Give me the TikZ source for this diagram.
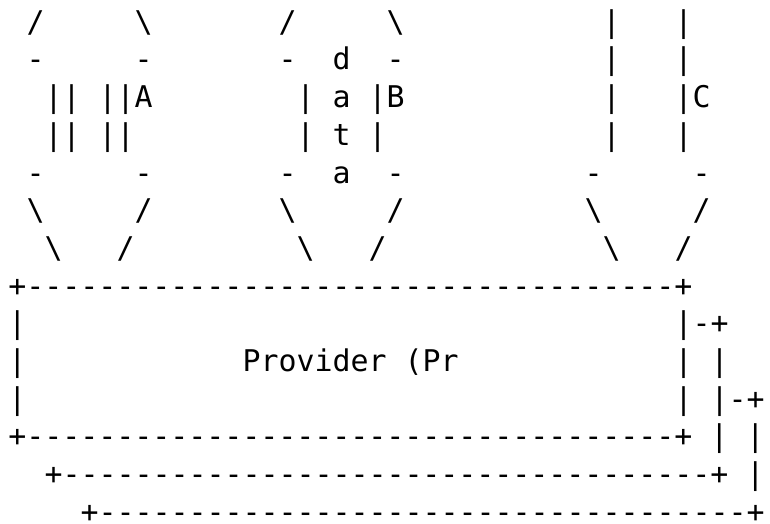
\documentclass[tikz,border=0pt]{standalone}
\usepackage{fontspec}
\usepackage{tikz}

\newfontfamily\artfont{DejaVu Sans Mono}

% one blank character cell / a run of hyphens (kept apart, no ligatures)
\newcommand\blank[1]{\hspace*{#1\fontdimen2\font}}
\newcommand\dashrun[1]{\foreach\k in {1,...,#1}{-}}

\tikzset{
  artrow/.style={
    anchor=base west, inner sep=0pt, outer sep=0pt,
    font=\artfont\fontsize{29.9pt}{36pt}\selectfont
  }
}

\begin{document}
\begin{tikzpicture}[x=1pt, y=-1pt]
\useasboundingbox (0,0) rectangle (770,523);

% ── Funnels A, B and C ──────────────────────────────────────────────
\node[artrow] (r1) at (8.5, 32.2)  {\blank1/\blank5\textbackslash\blank7/\blank5\textbackslash\blank{11}|\blank3|};
\node[artrow] (r2) at (8.5, 69.9)  {\blank1-\blank5-\blank7-\blank2d\blank2-\blank{11}|\blank3|};
\node[artrow] (r3) at (8.5, 107.6) {\blank2||\blank1||A\blank8|\blank1a\blank1|B\blank{11}|\blank3|C};
\node[artrow] (r4) at (8.5, 145.3) {\blank2||\blank1||\blank9|\blank1t\blank1|\blank{12}|\blank3|};
\node[artrow] (r5) at (8.5, 183.0) {\blank1-\blank5-\blank7-\blank2a\blank2-\blank{10}-\blank5-};
\node[artrow] (r6) at (8.5, 220.7) {\blank1\textbackslash\blank5/\blank7\textbackslash\blank5/\blank{10}\textbackslash\blank5/};
\node[artrow] (r7) at (8.5, 258.4) {\blank2\textbackslash\blank3/\blank9\textbackslash\blank3/\blank{12}\textbackslash\blank3/};

% ── Provider box, stacked ───────────────────────────────────────────
\node[artrow] (r8)  at (8.5, 296.1) {+\dashrun{36}+};
\node[artrow] (r9)  at (8.5, 333.8) {|\blank{36}|-+};
\node[artrow] (r10) at (8.5, 371.5) {|\blank{12}Provider (Pr\blank{12}|\blank1|};
\node[artrow] (r11) at (8.5, 409.2) {|\blank{36}|\blank1|-+};
\node[artrow] (r12) at (8.5, 446.9) {+\dashrun{36}+\blank1|\blank1|};
\node[artrow] (r13) at (8.5, 484.6) {\blank2+\dashrun{36}+\blank1|};
\node[artrow] (r14) at (8.5, 522.3) {\blank4+\dashrun{36}+};

\end{tikzpicture}
\end{document}
